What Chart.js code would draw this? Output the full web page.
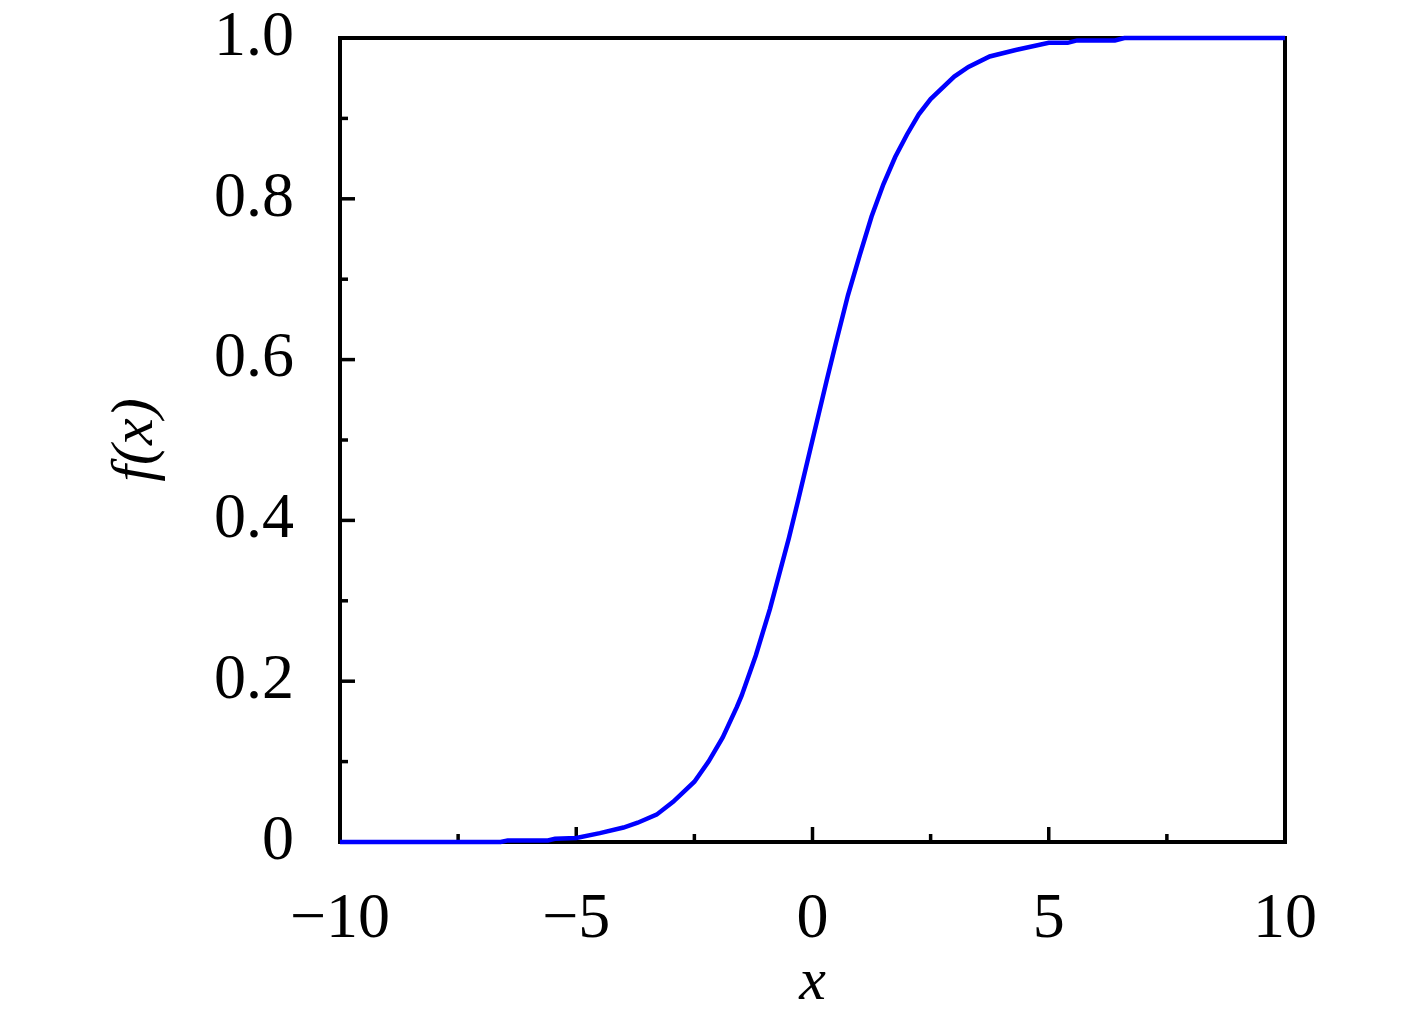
<!DOCTYPE html>
<html>
<head>
    <title>f(x)</title>
    <script src="https://cdn.jsdelivr.net/npm/chart.js"></script>
    <style>
        body {
            margin: 0;
            padding: 0;
            background: white;
        }
        #chart-container {
            width: 1417px;
            height: 1019px;
        }
    </style>
</head>
<body>

<div id="chart-container">
    <canvas id="fxChart" width="1417" height="1019"></canvas>
</div>

<script>
    // values
    const xValues = [-10, -6.6, -6.45, -5.6, -5.45, -5.0, -4.5, -4.0, -3.7, -3.3, -2.95, -2.5, -2.2, -1.9, -1.6, -1.5, -1.2, -0.9, -0.5, -0.3, 0, 0.3, 0.5, 0.75, 1.0, 1.25, 1.5, 1.75, 2.0, 2.25, 2.5, 3.0, 3.3, 3.75, 4.3, 5.0, 5.4, 5.6, 6.4, 6.6, 10];
    const fValues = [0, 0, 0.002, 0.002, 0.004, 0.005, 0.011, 0.018, 0.024, 0.034, 0.05, 0.075, 0.1, 0.13, 0.168, 0.182, 0.232, 0.29, 0.378, 0.426, 0.5, 0.574, 0.622, 0.68, 0.73, 0.778, 0.818, 0.852, 0.88, 0.905, 0.924, 0.952, 0.964, 0.977, 0.985, 0.994, 0.994, 0.997, 0.997, 1.0, 1.0];
    const xTicks = [-10, -5, 0, 5, 10];
    const xMinorTicks = [-7.5, -2.5, 2.5, 7.5];
    const yTicks = [0, 0.2, 0.4, 0.6, 0.8, 1.0];
    const yMinorTicks = [0.1, 0.3, 0.5, 0.7, 0.9];

    const serif = "'Liberation Serif', 'DejaVu Serif', serif";

    // frame with inward ticks on bottom and left only
    const framePlugin = {
        id: 'frame',
        beforeDatasetsDraw(chart) {
            const ctx = chart.ctx;
            const a = chart.chartArea;
            const xs = chart.scales.x;
            const ys = chart.scales.y;
            ctx.save();
            ctx.strokeStyle = '#000';
            ctx.lineWidth = 4;
            ctx.strokeRect(a.left, a.top, a.right - a.left, a.bottom - a.top);
            ctx.lineWidth = 3.5;
            const tick = (x1, y1, x2, y2) => {
                ctx.beginPath();
                ctx.moveTo(x1, y1);
                ctx.lineTo(x2, y2);
                ctx.stroke();
            };
            xTicks.forEach(v => {
                const px = xs.getPixelForValue(v);
                tick(px, a.bottom, px, a.bottom - 15);
            });
            xMinorTicks.forEach(v => {
                const px = xs.getPixelForValue(v);
                tick(px, a.bottom, px, a.bottom - 8);
            });
            yTicks.forEach(v => {
                const py = ys.getPixelForValue(v);
                tick(a.left, py, a.left + 15, py);
            });
            yMinorTicks.forEach(v => {
                const py = ys.getPixelForValue(v);
                tick(a.left, py, a.left + 8, py);
            });
            ctx.restore();
        }
    };

    new Chart(document.getElementById("fxChart"), {
        type: 'line',
        data: {
            datasets: [{
                label: 'f(x)',
                data: xValues.map((x, i) => ({ x: x, y: fValues[i] })),
                borderColor: '#0000ff',
                borderWidth: 4.5,
                pointRadius: 0,
                tension: 0,
                fill: false,
                clip: false
            }]
        },
        options: {
            responsive: false,
            animation: false,
            layout: {
                padding: { left: 100, right: 132, top: 38, bottom: 0 }
            },
            plugins: {
                legend: { display: false },
                tooltip: { enabled: false }
            },
            scales: {
                x: {
                    type: 'linear',
                    min: -10,
                    max: 10,
                    afterBuildTicks: s => { s.ticks = xTicks.map(v => ({ value: v })); },
                    afterFit: s => { s.height = 177; s.paddingLeft = 0; s.paddingRight = 0; },
                    grid: { display: false, drawTicks: false },
                    border: { display: false },
                    ticks: {
                        color: '#000',
                        padding: 40,
                        maxRotation: 0,
                        font: { family: serif, size: 64 },
                        callback: v => (v < 0 ? '\u2212' + Math.abs(v) : String(v))
                    },
                    title: {
                        display: true,
                        text: 'x',
                        color: '#000',
                        padding: { top: 0, bottom: 0 },
                        font: { family: serif, size: 60, style: 'italic' }
                    }
                },
                y: {
                    type: 'linear',
                    min: 0,
                    max: 1,
                    afterBuildTicks: s => { s.ticks = yTicks.map(v => ({ value: v })); },
                    afterFit: s => { s.width = 240; s.paddingTop = 0; s.paddingBottom = 0; },
                    grid: { display: false, drawTicks: false },
                    border: { display: false },
                    ticks: {
                        color: '#000',
                        padding: 46,
                        font: { family: serif, size: 64 },
                        callback: v => (v === 0 ? '0' : v.toFixed(1))
                    },
                    title: {
                        display: true,
                        text: 'f(x)',
                        color: '#000',
                        padding: { top: 0, bottom: 0 },
                        font: { family: serif, size: 60, style: 'italic' }
                    }
                }
            }
        },
        plugins: [framePlugin]
    });
</script>

</body>
</html>
